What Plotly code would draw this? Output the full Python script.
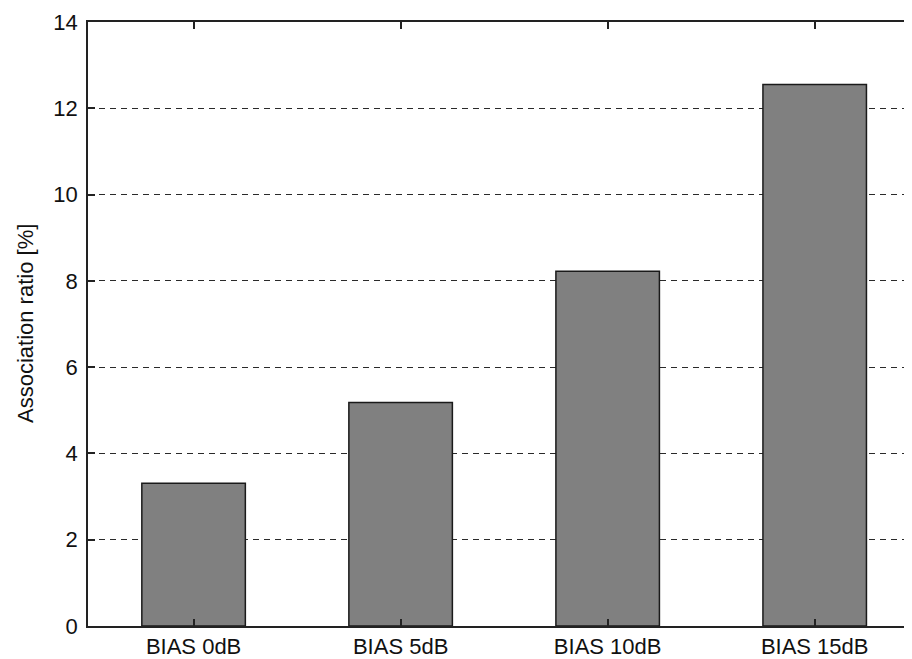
import plotly.graph_objects as go

categories = ["BIAS 0dB", "BIAS 5dB", "BIAS 10dB", "BIAS 15dB"]
association_ratio = [3.31, 5.18, 8.22, 12.55]
y_ticks = [0, 2, 4, 6, 8, 10, 12, 14]

x_pos = list(range(1, len(categories) + 1))

FONT = "Liberation Sans, Arial, Helvetica, sans-serif"

fig = go.Figure()
fig.add_trace(go.Bar(
    x=x_pos, y=association_ratio, width=0.5,
    marker=dict(color="#808080", line=dict(color="#1a1a1a", width=1.5)),
))

# page body has an 8px margin; the plot area spans x 88..912, y 22..627 on screen
fig.update_layout(
    width=904, height=651,
    margin=dict(l=80, r=0, t=14, b=24),
    paper_bgcolor="white", plot_bgcolor="white",
    showlegend=False,
    font=dict(family=FONT, size=22, color="black"),
    xaxis=dict(
        range=[0.49, 4.47], tickmode="array", tickvals=x_pos, ticktext=categories,
        showline=True, linecolor="#222", linewidth=1.5, mirror="ticks",
        ticks="inside", ticklen=7, tickcolor="#222", tickwidth=1.5,
        showgrid=False, zeroline=False, tickfont=dict(size=22, color="#111"),
    ),
    yaxis=dict(
        range=[0, 14], tickmode="array", tickvals=y_ticks,
        showline=True, linecolor="#222", linewidth=1.5, mirror=False,
        ticks="inside", ticklen=7, tickcolor="#222", tickwidth=1.5,
        showgrid=True, gridcolor="#2a2a2a", griddash="6px,5px", gridwidth=1.3,
        zeroline=False, tickfont=dict(size=22, color="#111"), ticklabelstandoff=4,
    ),
    annotations=[dict(
        text="Association ratio [%]", textangle=-90,
        xref="paper", yref="paper", x=(25 - 88) / 824, y=0.5,
        xanchor="center", yanchor="middle", showarrow=False,
        font=dict(family=FONT, size=22, color="#111"),
    )],
)

fig.write_html("out.html")
